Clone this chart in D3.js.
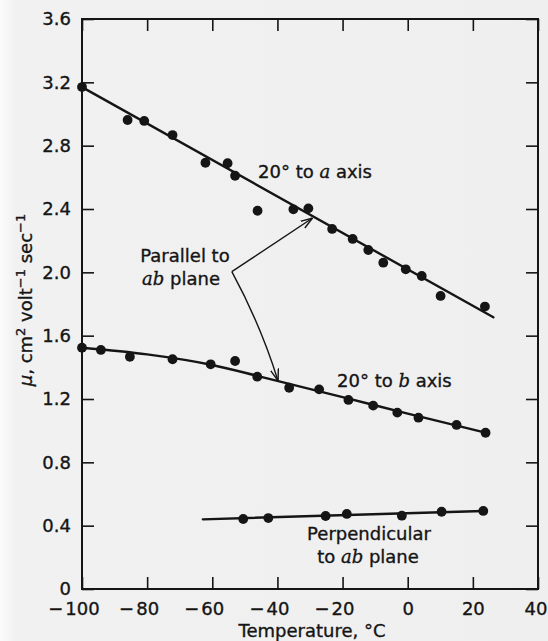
<!DOCTYPE html>
<html>
<head>
<meta charset="utf-8">
<script src="https://cdn.jsdelivr.net/npm/d3@7"></script>
<style>
  html, body { margin: 0; padding: 0; background: #efefef; }
  svg { display: block; }
  text { font-family: "DejaVu Sans", sans-serif; fill: #151515; stroke: #151515; stroke-width: 0.35px; }
</style>
</head>
<body>
<svg id="chart" width="548" height="641"></svg>
<script>
// Axis ticks
const tempTicks = [-100, -80, -60, -40, -20, 0, 20, 40];
const muTicks = [0, 0.4, 0.8, 1.2, 1.6, 2.0, 2.4, 2.8, 3.2, 3.6];

// Mobility measured 20° to the a axis
const aTemp = [-100, -86.0, -80.9, -72.2, -62.1, -55.3, -53.0, -46.1, -35.1, -30.5, -23.2, -16.9, -12.1, -7.5, -0.6, 4.3, 10.1, 23.7];
const aMu   = [3.17, 2.962, 2.956, 2.867, 2.692, 2.689, 2.610, 2.389, 2.398, 2.404, 2.274, 2.211, 2.141, 2.061, 2.019, 1.977, 1.851, 1.784];
const aFitTemp = [-100, 26.3];
const aFitMu   = [3.17, 1.716];

// Mobility measured 20° to the b axis
const bTemp = [-100, -94.2, -85.3, -72.2, -60.5, -53.0, -46.2, -36.4, -27.2, -18.2, -10.6, -3.2, 3.3, 15.0, 23.9];
const bMu   = [1.524, 1.510, 1.467, 1.451, 1.419, 1.440, 1.341, 1.271, 1.261, 1.194, 1.158, 1.114, 1.082, 1.036, 0.987];
const bFitTemp = [-100, -80, -60, -45, -20, 0, 23.9];
const bFitMu   = [1.524, 1.482, 1.415, 1.340, 1.212, 1.108, 0.987];

// Mobility perpendicular to the ab plane
const pTemp = [-50.5, -42.8, -25.2, -18.7, -1.8, 10.4, 23.2];
const pMu   = [0.442, 0.448, 0.461, 0.474, 0.463, 0.488, 0.493];
const pFitTemp = [-62.9, 23.2];
const pFitMu   = [0.440, 0.493];

// "Parallel to ab plane" pointer: vertex, bend control and the two tips (data units)
const pointerVertex = [-54.0, 2.004];
const pointerUpperTip = [-29.2, 2.343];
const pointerLowerBend = [-45.2, 1.671];
const pointerLowerTip = [-39.8, 1.314];

const svg = d3.select("#chart");
const plotLeft = 82, plotRight = 538, plotTop = 19, plotBottom = 589;

const x = d3.scaleLinear().domain([-100, 40]).range([plotLeft, plotRight]);
const y = d3.scaleLinear().domain([0, 3.6]).range([plotBottom, plotTop]);

const ink = "#151515";
const tickLen = 12;

// Paper: slightly lighter along the left margin
const defs = svg.append("defs");
const paper = defs.append("linearGradient").attr("id", "paper")
  .attr("x1", 0).attr("x2", 1).attr("y1", 0).attr("y2", 0);
paper.append("stop").attr("offset", 0).attr("stop-color", "#fbfbfb");
paper.append("stop").attr("offset", 0.03).attr("stop-color", "#f1f1f1");
paper.append("stop").attr("offset", 1).attr("stop-color", "#efefef");
svg.append("rect").attr("width", 548).attr("height", 641).attr("fill", "url(#paper)");

// Frame
svg.append("rect")
  .attr("x", plotLeft).attr("y", plotTop)
  .attr("width", plotRight - plotLeft).attr("height", plotBottom - plotTop)
  .attr("fill", "none").attr("stroke", ink).attr("stroke-width", 2);

function styleAxis(g) {
  g.select(".domain").remove();
  g.selectAll(".tick line").attr("stroke", ink).attr("stroke-width", 1.6);
  g.selectAll(".tick text").attr("font-size", 18).attr("fill", ink)
    .style("font-family", "'DejaVu Sans', sans-serif");
}

// Bottom axis: digits centred on the tick, minus sign hanging to the left
const gx = svg.append("g")
  .attr("transform", `translate(0,${plotBottom})`)
  .call(d3.axisBottom(x).tickValues(tempTicks).tickSize(-tickLen).tickPadding(13)
    .tickFormat(d => String(Math.abs(d))))
  .call(styleAxis);
gx.selectAll(".tick").each(function(d) {
  const g = d3.select(this);
  const t = g.select("text");
  if (d === 40) t.attr("dx", -2.5);
  if (d >= 0) return;
  const w = t.node().getComputedTextLength();
  g.append("text")
    .attr("x", -w / 2 - 2).attr("y", t.attr("y")).attr("dy", t.attr("dy"))
    .attr("text-anchor", "end").attr("font-size", 18).attr("fill", ink)
    .text("\u2212");
});

// Left axis
svg.append("g")
  .attr("transform", `translate(${plotLeft},0)`)
  .call(d3.axisLeft(y).tickValues(muTicks).tickSize(-tickLen).tickPadding(11)
    .tickFormat(d => d === 0 ? "0" : d.toFixed(1)))
  .call(styleAxis);

// Top and right ticks, no labels
svg.append("g")
  .attr("transform", `translate(0,${plotTop})`)
  .call(d3.axisTop(x).tickValues(tempTicks).tickSize(-tickLen).tickFormat(""))
  .call(styleAxis);
svg.append("g")
  .attr("transform", `translate(${plotRight},0)`)
  .call(d3.axisRight(y).tickValues(muTicks).tickSize(-tickLen).tickFormat(""))
  .call(styleAxis);

// Fitted curves
const straight = d3.line().x(d => x(d[0])).y(d => y(d[1]));
const smooth = d3.line().x(d => x(d[0])).y(d => y(d[1])).curve(d3.curveMonotoneX);

function fitLine(temps, mus, gen) {
  svg.append("path")
    .datum(temps.map((t, i) => [t, mus[i]]))
    .attr("d", gen)
    .attr("fill", "none").attr("stroke", ink).attr("stroke-width", 2.4)
    .attr("stroke-linecap", "round");
}
fitLine(aFitTemp, aFitMu, straight);
fitLine(bFitTemp, bFitMu, smooth);
fitLine(pFitTemp, pFitMu, straight);

// Measured points
function dots(temps, mus) {
  svg.append("g").selectAll("circle")
    .data(temps.map((t, i) => [t, mus[i]]))
    .join("circle")
    .attr("cx", d => x(d[0])).attr("cy", d => y(d[1]))
    .attr("r", 4.9).attr("fill", ink);
}
dots(aTemp, aMu);
dots(bTemp, bMu);
dots(pTemp, pMu);

// Pointer arrows
defs.append("marker")
  .attr("id", "head").attr("viewBox", "0 0 12 10")
  .attr("refX", 12).attr("refY", 5)
  .attr("markerWidth", 12).attr("markerHeight", 10)
  .attr("markerUnits", "userSpaceOnUse").attr("orient", "auto")
  .append("path").attr("d", "M0,1 L12,5 L0,9")
  .attr("fill", "none").attr("stroke", ink).attr("stroke-width", 1.4);

const vx = x(pointerVertex[0]), vy = y(pointerVertex[1]);
svg.append("path")
  .attr("d", `M${vx},${vy} L${x(pointerUpperTip[0])},${y(pointerUpperTip[1])}`)
  .attr("fill", "none").attr("stroke", ink).attr("stroke-width", 1.4)
  .attr("marker-end", "url(#head)");
svg.append("path")
  .attr("d", `M${vx},${vy} Q${x(pointerLowerBend[0])},${y(pointerLowerBend[1])} ${x(pointerLowerTip[0])},${y(pointerLowerTip[1])}`)
  .attr("fill", "none").attr("stroke", ink).attr("stroke-width", 1.4)
  .attr("marker-end", "url(#head)");

// Curve labels
const serifIt = "'DejaVu Serif', serif";
function label(px, py, anchor, parts) {
  const t = svg.append("text")
    .attr("x", px).attr("y", py).attr("text-anchor", anchor).attr("font-size", 18);
  parts.forEach(p => {
    const s = t.append("tspan").text(p.t);
    if (p.it) s.style("font-family", serifIt).style("font-style", "italic");
  });
}
label(258, 178, "start", [{ t: "20\u00b0 to " }, { t: "a", it: true }, { t: " axis" }]);
label(337, 387, "start", [{ t: "20\u00b0 to " }, { t: "b", it: true }, { t: " axis" }]);
label(185, 262, "middle", [{ t: "Parallel to" }]);
label(181, 285, "middle", [{ t: "ab", it: true }, { t: " plane" }]);
label(369, 540, "middle", [{ t: "Perpendicular" }]);
label(368, 563, "middle", [{ t: "to " }, { t: "ab", it: true }, { t: " plane" }]);

// Axis titles
svg.append("text")
  .attr("x", 312).attr("y", 637).attr("text-anchor", "middle").attr("font-size", 18)
  .text("Temperature, \u00b0C");

const yt = svg.append("text")
  .attr("transform", "translate(32,300) rotate(-90)")
  .attr("text-anchor", "middle").attr("font-size", 18);
yt.append("tspan").style("font-style", "italic").text("\u03bc");
yt.append("tspan").text(", cm");
yt.append("tspan").attr("dy", -7).attr("font-size", 13).text("2");
yt.append("tspan").attr("dy", 7).text(" volt");
yt.append("tspan").attr("dy", -7).attr("font-size", 13).text("\u22121");
yt.append("tspan").attr("dy", 7).text(" sec");
yt.append("tspan").attr("dy", -7).attr("font-size", 13).text("\u22121");
</script>
</body>
</html>
